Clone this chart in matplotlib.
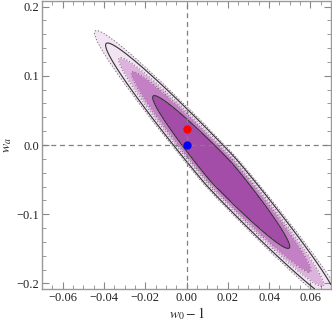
import numpy as np
import matplotlib
matplotlib.use("Agg")
import matplotlib.pyplot as plt
from matplotlib.ticker import MultipleLocator

plt.rcParams['font.family'] = ['Liberation Serif', 'DejaVu Serif']
plt.rcParams['mathtext.fontset'] = 'stix'

# ---- data ----
xlim = (-0.07, 0.07)
ylim = (-0.208, 0.208)
xticks = [-0.06, -0.04, -0.02, 0.00, 0.02, 0.04, 0.06]
xticklabels = ['\u22120.06', '\u22120.04', '\u22120.02', '0.00', '0.02', '0.04', '0.06']
yticks = [-0.2, -0.1, 0.0, 0.1, 0.2]
yticklabels = ['\u22120.2', '\u22120.1', '0.0', '0.1', '0.2']

# likelihood region (pointed ellipse along the degeneracy direction)
fill_center = (0.0168, -0.039)        # (w0-1, wa)
fill_halflen = 102.0                  # half-length of inner region (display px)
fill_halfwid = 14.0                   # half-width of inner region (display px)
fill_power = 1.32
fill_levels = [0.0, 1.0, 1.434, 1.708, 2.258]
fill_colors = ['#A44DA8', '#C480C4', '#DDB3DD', '#F2E4F2']
solid_levels = [1.0, 2.0]

axis_angle_deg = -48.2                # orientation of degeneracy in display space

fiducial_red = (0.0, 0.023)
fiducial_blue = (0.0, 0.0)

# ---- figure ----
W, H = 332, 321
fig = plt.figure(figsize=(W / 100, H / 100), dpi=100)
ax_l, ax_r, ax_t, ax_b = 42, 331, 1, 289
ax = fig.add_axes([ax_l / W, (H - ax_b) / H, (ax_r - ax_l) / W, (ax_b - ax_t) / H])
ax.set_xlim(*xlim)
ax.set_ylim(*ylim)

px_x = (ax_r - ax_l) / (xlim[1] - xlim[0])
px_y = (ax_b - ax_t) / (ylim[1] - ylim[0])
ang = np.deg2rad(axis_angle_deg)


def field(X, Y, c, L, Wd, p):
    dx = (X - c[0]) * px_x
    dy = (Y - c[1]) * px_y
    u = dx * np.cos(ang) + dy * np.sin(ang)
    v = -dx * np.sin(ang) + dy * np.cos(ang)
    return (np.abs(u) / L) ** p + (v / Wd) ** 2


gx = np.linspace(xlim[0], xlim[1], 800)
gy = np.linspace(ylim[0], ylim[1], 800)
X, Y = np.meshgrid(gx, gy)
F = field(X, Y, fill_center, fill_halflen, fill_halfwid, fill_power)

ax.contourf(X, Y, F, levels=fill_levels, colors=fill_colors, zorder=1)
ax.contour(X, Y, F, levels=fill_levels[2:], colors='#666666',
           linewidths=0.7, linestyles=[(0, (1, 2.2))], zorder=2)
ax.contour(X, Y, F, levels=solid_levels, colors='#333333',
           linewidths=0.8, zorder=3)

ax.axvline(0, color='#808080', lw=0.9, ls=(0, (4, 3)), zorder=4)
ax.axhline(0, color='#808080', lw=0.9, ls=(0, (4, 3)), zorder=4)

ax.plot(*fiducial_red, 'o', color='#FF0000', ms=6, mec='none', zorder=5)
ax.plot(*fiducial_blue, 'o', color='#0000FF', ms=6, mec='none', zorder=5)

ax.set_xticks(xticks)
ax.set_xticklabels(xticklabels)
ax.set_yticks(yticks)
ax.set_yticklabels(yticklabels)
ax.xaxis.set_minor_locator(MultipleLocator(0.005))
ax.yaxis.set_minor_locator(MultipleLocator(0.02))
ax.tick_params(which='both', direction='in', top=True, right=True,
               color='#888888', labelsize=9, labelcolor='#222222', pad=2)
ax.tick_params(which='major', length=5, width=0.8)
ax.tick_params(which='minor', length=3, width=0.6)
for s in ax.spines.values():
    s.set_color('#999999')
    s.set_linewidth(1.0)

ax.set_xlabel(r'$w_0-1$', fontsize=10, color='#222222', labelpad=1)
ax.set_ylabel(r'$w_a$', fontsize=10, color='#222222', labelpad=2)

fig.savefig('out.png', dpi=100)
